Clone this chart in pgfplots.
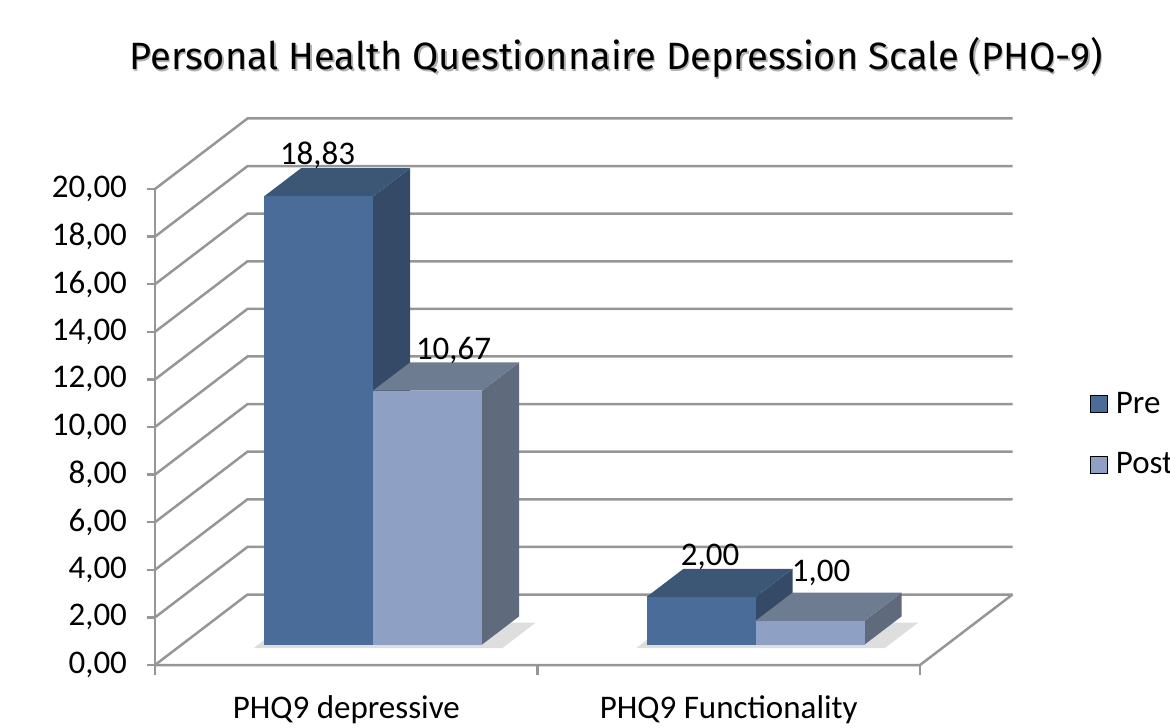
\documentclass[border=0pt]{standalone}
\usepackage{fontspec}
\setmainfont{Carlito}
\newfontfamily\titlefont{Fira Sans}
\usepackage{pgfplots}
\pgfplotsset{compat=1.18}
\definecolor{preF}{RGB}{74,108,152}
\definecolor{preT}{RGB}{60,87,118}
\definecolor{preS}{RGB}{53,74,102}
\definecolor{postF}{RGB}{142,161,196}
\definecolor{postT}{RGB}{110,124,146}
\definecolor{postS}{RGB}{95,106,125}
\definecolor{gridgray}{RGB}{150,150,150}
\pgfplotsset{
  gl/.style={forget plot, draw=gridgray, line width=1.25pt, line join=miter},
  face/.style={forget plot, draw=none, fill=#1},
  shad/.style={forget plot, draw=none, fill=black, fill opacity=0.13},
  lab/.style 2 args={forget plot, only marks, mark=none, point meta=z,
    nodes near coords,
    nodes near coords style={anchor=base, xshift=#1, yshift=#2, text=black,
      font=\fontsize{16.5}{18}\selectfont,
      /pgf/number format/.cd, fixed, fixed zerofill, precision=2, use comma}},
}
\begin{document}
\begin{tikzpicture}
\node[font=\titlefont\fontsize{19}{21}\selectfont, anchor=base, text=black!30] at (231.3pt,296.7pt) {Personal Health Questionnaire Depression Scale (PHQ-9)};
\node[font=\titlefont\fontsize{19}{21}\selectfont, anchor=base] at (230.5pt,297.5pt) {Personal Health Questionnaire Depression Scale (PHQ-9)};
\begin{axis}[
  at={(0pt,0pt)}, anchor=origin,
  x={(191.25pt,0pt)}, y={(46.25pt,35.25pt)}, z={(0pt,11.9pt)},
  xmin=0, xmax=2, ymin=0, ymax=1, zmin=0, zmax=20,
  clip=false,
  axis lines=left, axis line style={draw=none},
  major tick length=0pt,
  xtick={0.5,1.5}, xticklabels={PHQ9 depressive, PHQ9 Functionality},
  ytick=\empty,
  ztick={0,2,...,20},
  ticklabel style={font=\fontsize{16.5}{18}\selectfont, text=black},
  xticklabel style={anchor=base, yshift=-26.5pt},
  zticklabel style={anchor=east, xshift=-10.5pt, yshift=0pt,
    /pgf/number format/.cd, fixed, fixed zerofill, precision=2, use comma},
  /pgf/number format/assume math mode=true,
  legend style={draw=none, fill=none, at={(axis description cs:1.0825,0.422)}, anchor=west,
    font=\fontsize{16.5}{18}\selectfont, row sep=14pt,
    /tikz/every odd column/.append style={column sep=2.2pt}},
  legend cell align=left,
  legend image code/.code={\fill[#1] (0pt,-4.25pt) rectangle (8.5pt,4.25pt);},
]
% grid: left wall diagonals and back wall lines
\pgfplotsinvokeforeach{0,2,...,20}{
  \addplot3[gl] coordinates {(0,0,#1) (0,1,#1) (2,1,#1)};
  \addplot3[gl] coordinates {(-0.021,0,#1) (0,0,#1)};
}
\addplot3[gl] coordinates {(0,0,20) (0,0,-0.42)};
\addplot3[gl] coordinates {(0,0,0) (2,0,0) (2,1,0)};
\addplot3[gl] coordinates {(1,0,0) (1,0,-0.42)};
\addplot3[gl] coordinates {(2,0,0) (2,0,-0.42)};
% shadows on the floor
\addplot3[shad] coordinates {(0.2,0.24,0) (0.85,0.24,0) (0.85,0.6,0) (0.2,0.6,0)};
\addplot3[shad] coordinates {(1.2,0.24,0) (1.85,0.24,0) (1.85,0.6,0) (1.2,0.6,0)};
% Pre, PHQ9 depressive
\addplot3[face=preS] coordinates {(0.5,0.29,0) (0.5,0.69,0) (0.5,0.69,18.83) (0.5,0.29,18.83)};
\addplot3[face=preT] coordinates {(0.215,0.29,18.83) (0.5,0.29,18.83) (0.5,0.69,18.83) (0.215,0.69,18.83)};
\addplot3[face=preF] coordinates {(0.215,0.29,0) (0.5,0.29,0) (0.5,0.29,18.83) (0.215,0.29,18.83)};
% Post, PHQ9 depressive
\addplot3[face=postS] coordinates {(0.785,0.29,0) (0.785,0.69,0) (0.785,0.69,10.67) (0.785,0.29,10.67)};
\addplot3[face=postT] coordinates {(0.5,0.29,10.67) (0.785,0.29,10.67) (0.785,0.69,10.67) (0.5,0.69,10.67)};
\addplot3[face=postF] coordinates {(0.5,0.29,0) (0.785,0.29,0) (0.785,0.29,10.67) (0.5,0.29,10.67)};
% Pre, PHQ9 Functionality
\addplot3[face=preS] coordinates {(1.5,0.29,0) (1.5,0.69,0) (1.5,0.69,2) (1.5,0.29,2)};
\addplot3[face=preT] coordinates {(1.215,0.29,2) (1.5,0.29,2) (1.5,0.69,2) (1.215,0.69,2)};
\addplot3[face=preF] coordinates {(1.215,0.29,0) (1.5,0.29,0) (1.5,0.29,2) (1.215,0.29,2)};
% Post, PHQ9 Functionality
\addplot3[face=postS] coordinates {(1.785,0.29,0) (1.785,0.69,0) (1.785,0.69,1) (1.785,0.29,1)};
\addplot3[face=postT] coordinates {(1.5,0.29,1) (1.785,0.29,1) (1.785,0.69,1) (1.5,0.69,1)};
\addplot3[face=postF] coordinates {(1.5,0.29,0) (1.785,0.29,0) (1.785,0.29,1) (1.5,0.29,1)};
% value labels
\addplot3[lab={-0.5pt}{16pt}] coordinates {(0.3575,0.29,18.83)};
\addplot3[lab={13pt}{15.5pt}] coordinates {(0.6425,0.29,10.67)};
\addplot3[lab={4.5pt}{15.5pt}] coordinates {(1.3575,0.29,2)};
\addplot3[lab={5.5pt}{19.5pt}] coordinates {(1.6425,0.29,1)};
\addlegendimage{fill=preF}
\addlegendentry{Pre}
\addlegendimage{fill=postF}
\addlegendentry{Post}
\end{axis}
\pgfresetboundingbox
\useasboundingbox (-77.5pt,-31pt) rectangle (507.5pt,332.5pt);
\end{tikzpicture}
\end{document}
